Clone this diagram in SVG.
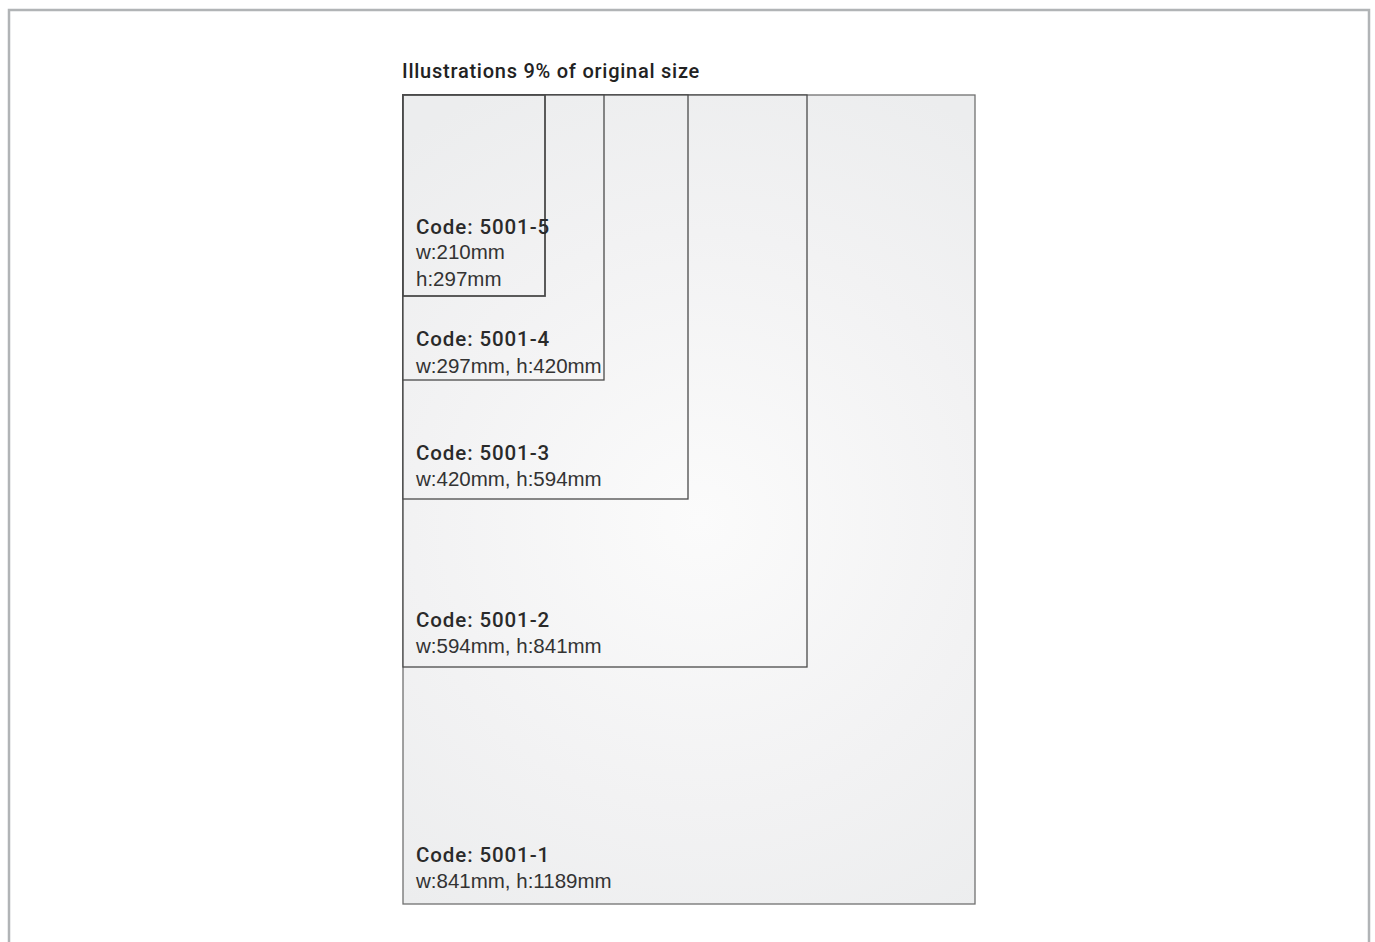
<svg xmlns="http://www.w3.org/2000/svg" width="1375" height="942" viewBox="0 0 1375 942">
<style>
.frame{fill:none;stroke:#b1b4b6;stroke-width:2.5}
.box{fill:url(#bg);stroke:#4a4a4a;stroke-width:1.3}
.code{font-family:Roboto,"Liberation Sans",Arial,sans-serif;font-size:20.5px;font-weight:500;fill:#2a2a2a;letter-spacing:0.9px}
.dim{font-family:"Liberation Sans",Arial,sans-serif;font-size:20.5px;fill:#333}
.title{font-family:Roboto,"Liberation Sans",Arial,sans-serif;font-size:20px;font-weight:500;fill:#222;letter-spacing:0.75px}
</style>
<defs>
<radialGradient id="bg" gradientUnits="userSpaceOnUse" cx="700" cy="520" r="480">
<stop offset="0" stop-color="#fbfbfb"/>
<stop offset="0.6" stop-color="#f2f2f3"/>
<stop offset="1" stop-color="#ecedee"/>
</radialGradient>
</defs>
<rect width="1375" height="942" fill="#ffffff"/>
<path class="frame" d="M9,942 V10 H1369 V942"/>
<text class="title" x="402" y="78">Illustrations 9% of original size</text>
<g id="node-5001-1">
<rect class="box" x="403" y="95" width="572" height="809" style="stroke:#707070"/>
<text class="code" x="416" y="862">Code: 5001-1</text>
<text class="dim" x="416" y="888">w:841mm, h:1189mm</text>
</g>
<g id="node-5001-2">
<rect class="box" x="403" y="95" width="404" height="572"/>
<text class="code" x="416" y="627">Code: 5001-2</text>
<text class="dim" x="416" y="653">w:594mm, h:841mm</text>
</g>
<g id="node-5001-3">
<rect class="box" x="403" y="95" width="285" height="404"/>
<text class="code" x="416" y="460">Code: 5001-3</text>
<text class="dim" x="416" y="486">w:420mm, h:594mm</text>
</g>
<g id="node-5001-4">
<rect class="box" x="403" y="95" width="201" height="285"/>
<text class="code" x="416" y="346">Code: 5001-4</text>
<text class="dim" x="416" y="373">w:297mm, h:420mm</text>
</g>
<g id="node-5001-5">
<rect class="box" x="403" y="95" width="142" height="201" style="stroke-width:1.8"/>
<text class="code" x="416" y="234">Code: 5001-5</text>
<text class="dim" x="416" y="259">w:210mm</text>
<text class="dim" x="416" y="286">h:297mm</text>
</g>
<g id="connectors"/>
</svg>
